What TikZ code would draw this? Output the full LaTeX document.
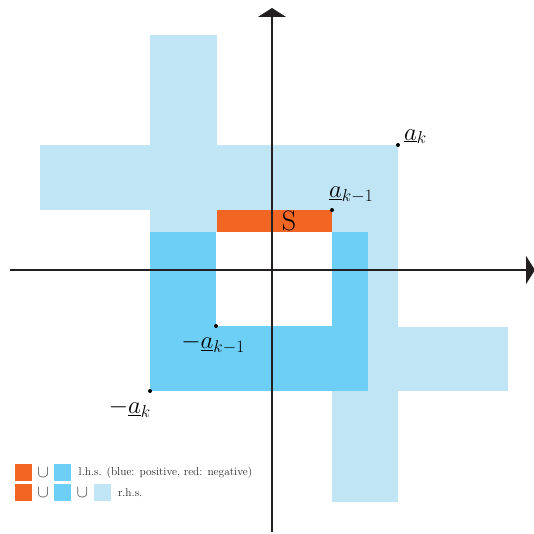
\documentclass[tikz,border=0pt]{standalone}
\usetikzlibrary{arrows.meta,positioning}
\definecolor{negred}{RGB}{242,101,34}
\definecolor{lhsblue}{RGB}{109,207,246}
\definecolor{rhsblue}{RGB}{192,229,245}
\definecolor{axisgray}{RGB}{35,31,32}

\begin{document}
\begin{tikzpicture}[x=1pt,y=1pt,
  rhs/.style={fill=rhsblue},
  lhs/.style={fill=lhsblue},
  neg/.style={fill=negred},
  axis/.style={draw=axisgray,line width=1.6pt,-{Triangle[width=28pt,length=9pt]}},
  vertex/.style={circle,fill=black,inner sep=0,minimum size=4pt},
  lbl/.style={inner sep=0,font=\fontsize{24}{28}\selectfont},
  swatch/.style={minimum size=17pt,inner sep=0},
  cupsym/.style={inner sep=0,font=\fontsize{19}{22}\selectfont,text=black!75},
  legtxt/.style={inner sep=0,font=\fontsize{11.4}{13}\selectfont,text=black!85}]
\useasboundingbox (-272,-264) rectangle (262,270);
% corners of the two squares
\coordinate (ak) at (126,125);
\coordinate (mak) at (-122,-121);
\coordinate (akm) at (60,60);
\coordinate (makm) at (-56,-56);
% r.h.s.
\fill[rhs] (mak) rectangle (ak);
\fill[rhs] (-122,125) rectangle (-55,235);
\fill[rhs] (-232,60) rectangle (-122,125);
\fill[rhs] (126,-121) rectangle (236,-57);
\fill[rhs] (60,-232) rectangle (126,-121);
% l.h.s.
\fill[lhs] (mak) rectangle (96,38);
\fill[white] (makm) rectangle (60,38);
\fill[neg] (-55,38) rectangle (akm);
\node[font=\fontsize{28}{32}\selectfont,inner sep=0] (S) at (17,49) {S};
% axes
\coordinate (xl) at (-262,0);
\coordinate (xr) at (263,0);
\coordinate (yb) at (0,-262);
\coordinate (yt) at (0,262);
\draw[axis] (xl) -- (xr);
\draw[axis] (yb) -- (yt);
% points
\node[vertex] (Pak) at (ak) {};
\node[vertex] (Pakm) at (akm) {};
\node[vertex] (Pmakm) at (makm) {};
\node[vertex] (Pmak) at (mak) {};
\node[lbl,anchor=south west,xshift=6pt,yshift=1pt] (lak) at (Pak) {$\underline{a}_k$};
\node[lbl,anchor=south west,xshift=-3pt,yshift=7pt] (lakm) at (Pakm) {$\underline{a}_{k-1}$};
\node[lbl,anchor=north,xshift=-3pt,yshift=-8pt] (lmakm) at (Pmakm) {$-\underline{a}_{k-1}$};
\node[lbl,anchor=north east,xshift=1pt,yshift=-8pt] (lmak) at (Pmak) {$-\underline{a}_k$};
% legend
\node[swatch,neg] (n1) at (-248.5,-202.5) {};
\node[cupsym,right=5pt of n1] (c1) {$\cup$};
\node[swatch,lhs,right=5pt of c1] (p1) {};
\node[legtxt,right=7pt of p1] (t1) {l.h.s. (blue: positive, red: negative)};
\node[swatch,neg,below=3pt of n1] (n2) {};
\node[cupsym,right=5pt of n2] (c2) {$\cup$};
\node[swatch,lhs,right=5pt of c2] (p2) {};
\node[cupsym,right=5pt of p2] (c3) {$\cup$};
\node[swatch,rhs,right=5pt of c3] (r2) {};
\node[legtxt,right=7pt of r2] (t2) {r.h.s.};
\end{tikzpicture}
\end{document}
